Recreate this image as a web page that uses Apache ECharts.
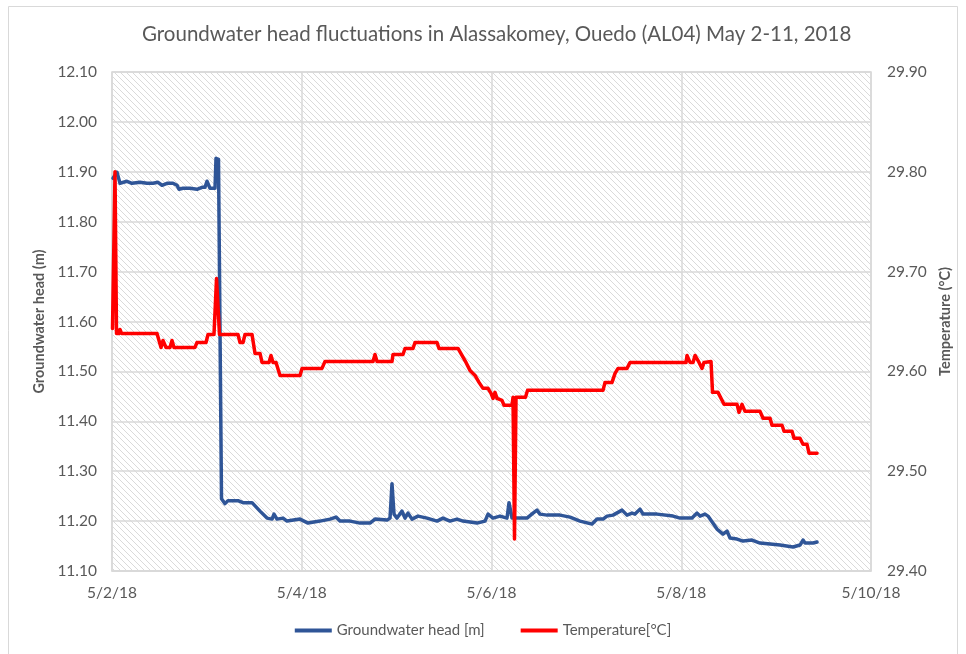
<!DOCTYPE html>
<html>
<head>
<meta charset="utf-8">
<script src="https://cdn.jsdelivr.net/npm/echarts@6/dist/echarts.min.js"></script>
<style>
  html, body { margin: 0; padding: 0; background: #ffffff; }
  #chart { width: 966px; height: 654px; }
</style>
</head>
<body>
<div id="chart"></div>
<script>
// Logger readings, AL04 (Alassakomey, Ouedo), May 2018.
// Time is in hours counted from 5/2/18 00:00.
const headHours = [0.25, 1.26, 2.02, 3.79, 5.06, 7.08, 8.85, 10.37, 11.64, 12.65, 13.91, 15.43, 16.44, 16.95, 17.96, 19.73, 21.50, 22.77, 23.53, 24.03, 24.79, 26.06, 26.31, 26.81, 26.94, 27.70, 28.59, 29.34, 31.87, 33.14, 35.42, 37.44, 39.21, 40.48, 40.98, 41.74, 43.26, 44.27, 47.56, 49.58, 52.62, 55.15, 56.67, 57.68, 60.21, 62.74, 65.27, 66.53, 69.57, 70.33, 70.83, 71.34, 72.10, 73.36, 74.12, 74.88, 75.89, 77.41, 79.69, 82.22, 83.73, 85.50, 87.28, 88.79, 92.33, 94.36, 95.12, 96.38, 98.15, 99.92, 100.43, 101.19, 102.45, 104.98, 106.50, 107.51, 108.27, 110.04, 113.33, 115.86, 118.39, 121.43, 122.69, 124.21, 125.22, 126.74, 129.02, 130.28, 131.55, 132.30, 133.57, 134.33, 137.87, 141.92, 143.69, 146.72, 147.99, 148.75, 150.01, 150.77, 153.05, 154.57, 155.58, 156.34, 158.11, 159.63, 161.90, 163.93, 166.46, 168.99, 172.27, 174.04, 174.80, 175.31, 177.33, 178.35];
const headValues = [11.887, 11.899, 11.877, 11.881, 11.877, 11.879, 11.877, 11.877, 11.879, 11.873, 11.877, 11.877, 11.873, 11.865, 11.867, 11.867, 11.865, 11.869, 11.869, 11.881, 11.867, 11.867, 11.927, 11.927, 11.925, 11.245, 11.235, 11.241, 11.241, 11.237, 11.237, 11.220, 11.206, 11.204, 11.214, 11.204, 11.206, 11.200, 11.204, 11.196, 11.200, 11.204, 11.208, 11.200, 11.200, 11.196, 11.196, 11.204, 11.202, 11.206, 11.275, 11.214, 11.206, 11.220, 11.206, 11.216, 11.204, 11.210, 11.206, 11.200, 11.206, 11.200, 11.204, 11.200, 11.196, 11.200, 11.214, 11.206, 11.210, 11.206, 11.237, 11.206, 11.206, 11.206, 11.216, 11.222, 11.214, 11.212, 11.212, 11.208, 11.200, 11.194, 11.204, 11.204, 11.210, 11.212, 11.222, 11.212, 11.216, 11.214, 11.224, 11.214, 11.214, 11.210, 11.206, 11.206, 11.216, 11.210, 11.214, 11.210, 11.184, 11.174, 11.180, 11.166, 11.164, 11.160, 11.162, 11.156, 11.154, 11.152, 11.148, 11.152, 11.162, 11.156, 11.156, 11.158];

const tempHours = [0.13, 0.76, 1.14, 1.77, 2.02, 2.40, 11.38, 12.40, 12.90, 13.66, 14.67, 15.18, 15.68, 21.00, 21.50, 23.78, 24.29, 25.80, 26.44, 26.69, 27.19, 31.87, 32.38, 33.14, 33.65, 35.42, 36.18, 37.44, 37.95, 39.72, 40.22, 40.73, 41.49, 42.50, 47.56, 48.07, 53.12, 53.88, 66.03, 66.53, 67.04, 70.83, 71.08, 73.61, 74.12, 76.14, 76.65, 82.22, 82.72, 87.53, 88.54, 89.55, 90.56, 91.83, 92.84, 93.85, 95.12, 95.88, 96.38, 96.89, 97.39, 98.66, 99.17, 101.19, 101.44, 101.82, 102.20, 104.60, 105.11, 124.21, 124.72, 126.49, 127.25, 128.01, 130.28, 131.04, 145.21, 145.46, 146.22, 146.98, 147.49, 148.50, 149.25, 149.76, 151.53, 151.91, 153.30, 154.31, 154.82, 158.11, 158.61, 159.37, 160.13, 163.93, 164.69, 166.46, 166.96, 169.49, 170.00, 172.02, 172.53, 174.04, 174.80, 175.82, 176.32, 178.35];
const tempValues = [29.643, 29.800, 29.638, 29.638, 29.642, 29.638, 29.638, 29.624, 29.631, 29.624, 29.624, 29.631, 29.624, 29.624, 29.629, 29.629, 29.637, 29.637, 29.693, 29.693, 29.637, 29.637, 29.629, 29.629, 29.637, 29.637, 29.618, 29.618, 29.609, 29.609, 29.616, 29.609, 29.609, 29.596, 29.596, 29.603, 29.603, 29.610, 29.610, 29.617, 29.610, 29.610, 29.617, 29.617, 29.623, 29.623, 29.629, 29.629, 29.623, 29.623, 29.616, 29.609, 29.601, 29.596, 29.589, 29.583, 29.583, 29.578, 29.573, 29.579, 29.573, 29.571, 29.566, 29.566, 29.574, 29.432, 29.574, 29.574, 29.581, 29.581, 29.589, 29.589, 29.598, 29.603, 29.603, 29.609, 29.609, 29.616, 29.609, 29.609, 29.616, 29.609, 29.603, 29.609, 29.610, 29.579, 29.579, 29.571, 29.567, 29.567, 29.559, 29.567, 29.560, 29.560, 29.553, 29.553, 29.546, 29.546, 29.540, 29.540, 29.533, 29.533, 29.527, 29.527, 29.518, 29.518];

const headTicks = [11.10, 11.20, 11.30, 11.40, 11.50, 11.60, 11.70, 11.80, 11.90, 12.00, 12.10];
const tempTicks = [29.40, 29.50, 29.60, 29.70, 29.80, 29.90];
const dayLabels = ['5/2/18', '5/4/18', '5/6/18', '5/8/18', '5/10/18'];

const FONT = 'Lato, "Open Sans", sans-serif';
const TEXT = '#595959';
const GRID = '#D9D9D9';

// light diagonal hatch used as the plot-area fill
function hatch() {
  const s = 6;
  const c = document.createElement('canvas');
  c.width = s; c.height = s;
  const g = c.getContext('2d');
  g.fillStyle = '#ffffff';
  g.fillRect(0, 0, s, s);
  g.strokeStyle = '#dadada';
  g.lineWidth = 1;
  g.beginPath();
  g.moveTo(-1, -1); g.lineTo(s + 1, s + 1);
  g.moveTo(-1, s - 1); g.lineTo(1, s + 1);
  g.moveTo(s - 1, -1); g.lineTo(s + 1, 1);
  g.stroke();
  return c;
}

const chart = echarts.init(document.getElementById('chart'));
chart.setOption({
  animation: false,
  backgroundColor: '#ffffff',
  textStyle: { fontFamily: FONT },
  graphic: [{
    type: 'rect', z: -10, silent: true,
    shape: { x: 8.5, y: 6.5, width: 949, height: 660 },
    style: { fill: 'none', stroke: '#D9D9D9', lineWidth: 1 }
  }],
  title: {
    text: 'Groundwater head fluctuations in Alassakomey, Ouedo (AL04) May 2-11, 2018',
    left: 137, top: 19,
    textStyle: { color: TEXT, fontSize: 20.5, fontWeight: 'normal', fontFamily: FONT }
  },
  grid: {
    left: 112, right: 95, top: 72, bottom: 83,
    show: true,
    backgroundColor: { image: hatch(), repeat: 'repeat' },
    borderColor: GRID, borderWidth: 1.5
  },
  legend: {
    bottom: 11, left: 'center',
    itemWidth: 37, itemHeight: 4, itemGap: 36,
    icon: 'rect',
    textStyle: { color: TEXT, fontSize: 15, fontFamily: FONT },
    data: ['Groundwater head [m]', 'Temperature[°C]']
  },
  xAxis: {
    type: 'value', min: 0, max: 192, interval: 48,
    axisLine: { show: true, lineStyle: { color: GRID, width: 1.5 } },
    axisTick: { show: false },
    axisLabel: {
      color: TEXT, fontSize: 15.5, margin: 14, fontFamily: FONT,
      formatter: v => dayLabels[Math.round(v / 48)]
    },
    splitLine: { show: true, lineStyle: { color: GRID, width: 1.5 } }
  },
  yAxis: [{
    type: 'value', min: headTicks[0], max: headTicks[headTicks.length - 1], interval: 0.1,
    name: 'Groundwater head (m)', nameLocation: 'middle', nameGap: 58,
    nameTextStyle: { color: TEXT, fontSize: 14.5, fontWeight: 'bold', fontFamily: FONT },
    axisLine: { show: false }, axisTick: { show: false },
    axisLabel: { color: TEXT, fontSize: 15.5, margin: 15, fontFamily: FONT, formatter: v => v.toFixed(2) },
    splitLine: { show: true, lineStyle: { color: GRID, width: 1.5 } }
  }, {
    type: 'value', min: tempTicks[0], max: tempTicks[tempTicks.length - 1], interval: 0.1,
    name: 'Temperature (°C)', nameLocation: 'middle', nameGap: 66, nameRotate: 90,
    nameTextStyle: { color: TEXT, fontSize: 14.5, fontWeight: 'bold', fontFamily: FONT },
    axisLine: { show: false }, axisTick: { show: false },
    axisLabel: { color: TEXT, fontSize: 15.5, margin: 16, fontFamily: FONT, formatter: v => v.toFixed(2) },
    splitLine: { show: false }
  }],
  series: [{
    name: 'Groundwater head [m]',
    type: 'line', yAxisIndex: 0,
    showSymbol: false, symbol: 'none',
    data: headHours.map((h, i) => [h, headValues[i]]),
    lineStyle: { color: '#2F5597', width: 3.5, join: 'round', cap: 'round' },
    itemStyle: { color: '#2F5597' }
  }, {
    name: 'Temperature[°C]',
    type: 'line', yAxisIndex: 1,
    showSymbol: false, symbol: 'none',
    data: tempHours.map((h, i) => [h, tempValues[i]]),
    lineStyle: { color: '#FF0000', width: 3.5, join: 'round', cap: 'round' },
    itemStyle: { color: '#FF0000' }
  }]
});
</script>
</body>
</html>
